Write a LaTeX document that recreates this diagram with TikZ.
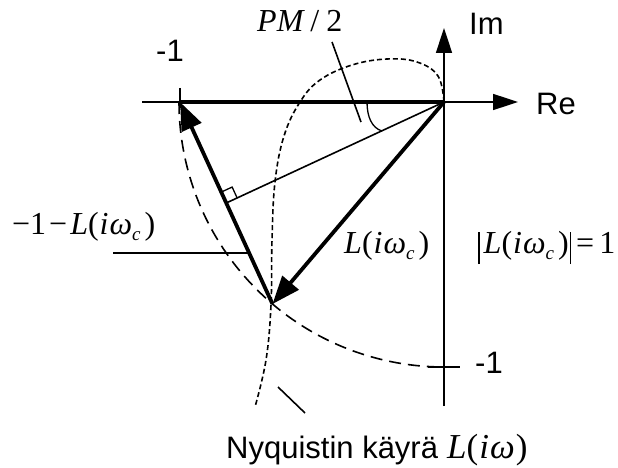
\documentclass[tikz,border=0pt]{standalone}
\usepackage{fontspec}
\setmainfont{Liberation Sans}
\newfontfamily\tms{Liberation Serif}
\usetikzlibrary{arrows.meta,calc}
\newcommand{\Lwc}{{\tms{\itshape L}(\kern1pt{\itshape i}\kern1pt{\itshape ω}\raisebox{-6pt}{\fontsize{19}{19}\selectfont\itshape c}\kern4pt)}}
\begin{document}
\begin{tikzpicture}[x=1pt,y=-1pt,
  thinline/.style={line width=1.6pt},
  thickline/.style={line width=3.8pt},
  thickvec/.style={line width=3.8pt,-{Triangle[length=28pt,width=21pt]}},
  axisarrow/.style={line width=1.6pt,-{Triangle[length=25pt,width=16pt]}},
  circdash/.style={line width=1.6pt,dash pattern=on 12pt off 7pt},
  nyqdash/.style={line width=1.6pt,dash pattern=on 5pt off 3pt},
  sanslabel/.style={font=\fontsize{31}{37}\selectfont, inner sep=0pt},
  seriflabel/.style={font=\fontsize{32}{38}\selectfont\tms, inner sep=0pt}]
\useasboundingbox (0,0) rectangle (618,468);
% key points
\coordinate (O) at (444,102);
\coordinate (M1) at (180,102);
\coordinate (Lp) at (272.5,304);
\coordinate (Mid) at ($(M1)!0.5!(Lp)$);
\coordinate (ReL) at (142,102);
\coordinate (ReR) at (518,102);
\coordinate (ImB) at (444,406);
\coordinate (ImT) at (444,28);
\coordinate (TkA) at (180,88);
\coordinate (TkB) at (180,108);
\coordinate (TiA) at (428,367);
\coordinate (TiB) at (460,367);
% unit circle arc (long dashes)
\draw[circdash] plot[domain=180:270,samples=60,smooth] ({444+265*cos(\x)},{102-265*sin(\x)});
% Nyquist curve (short dashes)
\draw[nyqdash] plot[smooth,tension=0.65] coordinates {(444,102) (438,76) (417,62) (387,59) (352,65) (320,80) (300,102) (284,136) (275,182) (272,240) (271,305) (266,360) (255,407)};
% axes
\draw[thinline] (ReL) -- (M1);
\draw[axisarrow] (O) -- (ReR);
\draw[thickline] (M1) -- (O);
\draw[axisarrow] (ImB) -- (ImT);
\draw[thinline] (TkA) -- (TkB);
\draw[thinline] (TiA) -- (TiB);
% bisector and right angle mark
\draw[thinline] (O) -- (Mid);
\coordinate (Sq1) at ($(Mid)!12pt!(M1)$);
\coordinate (Sq3) at ($(Mid)!12pt!(O)$);
\draw[line width=1.3pt] (Sq1) -- ($(Sq1)+(Sq3)-(Mid)$) -- (Sq3);
% PM/2 angle arc
\coordinate (Ang1) at (367,102);
\coordinate (Ang2) at (382,131);
\draw[line width=1.3pt] (Ang1) .. controls (367,117) and (372,128) .. (Ang2);
% vectors
\draw[thickvec] (O) -- (Lp);
\draw[thickvec] (Lp) -- (M1);
% leaders
\coordinate (PmA) at (332,42);
\coordinate (PmB) at (361,122);
\draw[thinline] (PmA) -- (PmB);
\coordinate (DfA) at (113,253);
\coordinate (DfB) at (248,253);
\draw[thinline] (DfA) -- (DfB);
\coordinate (NyA) at (278,387);
\coordinate (NyB) at (305,413);
\draw[thinline] (NyA) -- (NyB);
% labels
\node[sanslabel,anchor=base west] (lm1) at (156,62) {-1};
\node[sanslabel,anchor=base west] (lm1b) at (475,373) {-1};
\node[sanslabel,anchor=base west] (lim) at (469,35) {Im};
\node[sanslabel,anchor=base west] (lre) at (536,114) {Re};
\node[seriflabel,anchor=base west] (lpm) at (257,32) {{\itshape PM}\kern7pt/\kern7pt2};
\node[seriflabel,anchor=base west] (ldiff) at (12,234) {−1\kern3pt−\kern3pt\Lwc};
\node[seriflabel,anchor=base west] (lvec) at (344,253) {\Lwc};
\node[seriflabel,anchor=base west] (labs) at (478,253) {\rule[-11pt]{1.5pt}{32pt}\kern4pt\Lwc\kern1pt\rule[-11pt]{1.5pt}{32pt}\kern5pt=\kern5pt1};
\node[sanslabel,anchor=base west] (lny) at (226,458) {Nyquistin käyrä};
\node[seriflabel,anchor=base west,font=\fontsize{35}{40}\selectfont\tms] (lnyl) at (447,458) {{\itshape L}(\kern1pt{\itshape i}\kern1pt{\itshape ω}\kern1pt)};
\end{tikzpicture}
\end{document}
